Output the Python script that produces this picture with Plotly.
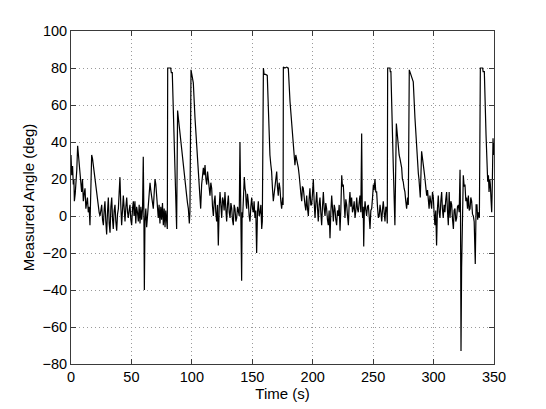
import plotly.graph_objects as go

# Sample times [s]
time_s = [
    0.0, 0.6, 1.3, 1.9, 2.4, 2.8, 3.5, 4.1, 4.8, 5.5, 6.2, 6.8, 7.4, 8.1, 8.8, 9.5,
    10.2, 10.9, 11.6, 12.3, 12.9, 13.6, 14.3, 15.0, 15.7, 16.4, 17.1, 17.8, 18.5,
    19.2, 19.9, 20.6, 21.2, 21.9, 22.6, 23.3, 24.0, 24.7, 25.4, 26.1, 26.8, 27.5,
    28.1, 28.8, 29.5, 30.2, 30.9, 31.6, 32.3, 33.0, 33.7, 34.4, 35.0, 35.7, 36.4,
    37.1, 37.8, 38.5, 39.2, 39.8, 40.5, 41.2, 41.9, 42.6, 43.3, 44.0, 44.7, 45.4,
    46.1, 46.8, 47.4, 48.1, 48.8, 49.5, 50.2, 50.9, 51.6, 52.2, 52.9, 53.6, 54.3,
    55.0, 55.7, 56.4,
    57.1, 57.8, 58.5, 59.2, 59.8, 60.3, 60.7, 61.2, 61.9, 62.6, 63.3, 64.0, 64.7,
    65.4, 66.0, 66.7, 67.4, 68.1, 68.8, 69.5, 70.2, 70.9, 71.5, 72.2, 72.9, 73.6,
    74.3, 75.0, 75.7, 76.4, 77.1, 77.8, 78.4, 79.1, 79.7, 80.0, 81.0, 82.5, 83.0,
    83.8, 87.4, 88.2, 89.0, 90.2, 90.8, 91.5, 92.2, 92.9, 93.6, 94.3, 95.0, 95.7,
    96.4, 97.1, 97.9, 98.4, 99.3, 100.0, 101.2, 102.6, 104.0, 105.3, 106.0, 106.7,
    107.3, 108.1, 108.8, 109.5, 110.2, 110.9,
    111.6, 112.3, 113.0, 113.6, 114.3, 115.0, 115.7, 116.4, 117.1, 117.8, 118.5,
    119.2, 119.8, 120.5, 121.2, 121.9, 122.6, 123.3, 124.0, 124.7, 125.4, 126.1,
    126.7, 127.4, 128.1, 128.8, 129.5, 130.2, 130.9, 131.6, 132.3, 133.0, 133.6,
    134.3, 135.0, 135.7, 136.4, 137.1, 137.8, 138.5, 139.2, 139.8, 140.4, 140.8,
    141.2, 141.6, 142.0, 142.7, 143.4, 144.0, 144.5, 145.0, 145.4, 146.0, 146.7,
    147.4, 148.1, 148.8, 149.5, 150.2, 150.9, 151.5, 152.2, 152.9, 153.6, 154.3,
    155.0, 155.7, 156.4, 157.1, 157.8, 158.3, 158.6, 159.2, 159.8, 161.0, 162.4,
    163.3, 164.0, 164.6, 165.3, 166.0, 166.7, 167.4, 168.1, 168.8, 169.5, 170.2,
    170.8, 171.5, 172.2, 172.9, 173.6, 174.3, 175.1, 175.5, 175.7, 177.0, 178.5,
    179.8, 181.2, 182.6, 183.3, 184.0, 184.6, 185.3, 186.0, 186.7, 187.4, 188.1,
    188.8, 189.5, 190.2, 190.9, 191.5, 192.2, 192.9, 193.6, 194.3, 195.0, 195.7,
    196.4, 197.0, 197.7, 198.4, 199.1, 199.8, 200.5, 201.2, 201.9, 202.6, 203.3,
    204.0, 204.6, 205.3, 206.0, 206.7, 207.4, 208.1, 208.8,
    209.5, 210.2, 210.8, 211.5, 212.2, 212.9, 213.6, 214.3, 215.0, 215.7, 216.4,
    217.1, 217.8, 218.4, 219.1, 219.8, 220.5, 221.2, 221.9, 222.6, 223.3, 224.0,
    224.6, 225.3, 226.0, 226.7, 227.4, 228.1, 228.8, 229.5, 230.2, 230.8, 231.5,
    232.2, 232.9, 233.6, 234.3, 235.0, 235.7, 236.4, 237.0, 237.7, 238.4, 239.1,
    239.8, 240.5, 241.0, 241.3, 241.8, 242.2, 242.7, 243.3, 244.0, 244.6, 245.3,
    246.0, 246.7, 247.4, 248.1, 248.8, 249.5, 250.2, 250.8, 251.5, 252.2, 252.9,
    253.6, 254.3, 255.0, 255.7, 256.4, 257.1, 257.8, 258.4,
    259.1, 259.8, 260.5, 261.2, 261.7, 262.0, 263.0, 263.9, 264.2, 264.7, 266.7,
    268.0, 269.2, 270.0, 270.8, 271.5, 272.2, 272.9, 273.6, 274.2, 274.9, 275.6,
    276.3, 277.0, 277.7, 278.5, 279.1, 279.9, 280.8, 281.8, 283.2, 284.6, 286.0,
    286.8, 287.4, 287.9, 288.5, 289.0, 290.1, 290.8, 291.5, 292.2, 292.9, 293.6,
    294.3, 295.0, 295.6, 296.3, 297.0, 297.7, 298.4, 299.1, 299.8, 300.4, 301.1,
    301.8, 302.5, 303.2, 303.9, 304.6, 305.3, 306.0, 306.7, 307.3, 308.0, 308.7,
    309.4, 310.1, 310.8, 311.5, 312.2,
    312.9, 313.6, 314.3, 315.0, 315.7, 316.4, 317.0, 317.7, 318.4, 319.1, 319.8,
    320.5, 321.2, 321.9, 322.3, 322.7, 323.2, 323.8, 324.6, 325.3, 326.0, 326.7,
    327.4, 328.1, 328.8, 329.5, 330.2, 330.8, 331.5, 332.2, 332.9, 333.6, 334.5,
    335.2, 335.9, 336.5, 337.0, 337.9, 338.7, 339.5, 340.6, 341.0, 342.0, 343.4,
    344.8, 345.4, 345.9, 346.5, 347.0, 347.6, 348.1, 348.6, 349.2, 349.7, 350.0,
]

# Measured angle [deg] at each sample time
angle_deg = [
    33, 22, 27, 17, 20, 8, 12, 17, 25, 38, 33, 30, 26, 18, 13, 20,
    8, 12, 15, 4, 6, 10, 2, 5, -5, 18, 33, 31, 27,
    22, 20, 14, 13, 8, 4, 2, 0, 3, 6, -2, -5, 4,
    8, -3, -10, 2, 10, -4, -9, 5, 10, -2, -7, 3, 6,
    -3, -8, 1, 4, 12, 21, 6, -5, 3, 11, 4, -3, 5,
    10, 2, -1, 3, 6, -2, -5, 4, 8, 0, 8, -4, 5,
    2, -3, 6,
    -4, 5, -2, 4, 32, 2, -40, -3, 4, -6, 3, 6, 12,
    18, 14, 11, 7, 4, 12, 20, 17, 11, 4, -1, 6, -4,
    5, -2, 7, -5, 4, -6, 3, -2, -7, 80, 80, 80, 77.5,
    77.5, -7, 57, 52, 44, 40, 35, 31, 27, 24, 20, 14, 11,
    7, 4, -4, 2, 79, 77, 72, 53, 38, 26, 18, 13,
    4, 17, 22, 26, 22, 27.5,
    20, 17, 24, 20, 14, 11, 18, 15, 5, 0, 8,
    11, 2, -3, 6, -16, 4, 13, 6, -1, 10, 8,
    3, 13, 4, -3, 6, 11, 2, -1, 7, 4, -2,
    -5, 6, 4, -3, -1, 5, 2, 0, 40, -8, 3,
    -35, 2, -1, 10, 21, 15, 13, 6, 4, 12, 8,
    0, -3, 5, 10, 4, 2, 8, -1, 3, -20, 2,
    8, 0, 2, 6, -7, -3, 80, 80, 76.5, 76.5, 76,
    53, 40, 33, 28, 24, 15, 8, 12, 17, 21, 24,
    16, 11, 18, 15, 8, 4, 10, 6, 80.5, 80, 80.5,
    80, 62, 49, 44, 38, 30, 27.5, 33, 31, 28, 26,
    22, 18.5, 12, 8, 16, 15, 9, 6, 3, 11, 4,
    0, 9, 15, 6, 6, 12, 20, 8, -1, 7, 13,
    4, -3, 6, 10, 2, -5, 5, 13,
    4, 0, 7, 4, -2, -5, 3, -12, 2, 11, 4,
    -3, 6, 4, -2, -5, 3, 0, 6, -8, 4, 22,
    16, 17, 8, -1, 9, 6, 0, -5, 7, 13, 5,
    10, 2, 4, 8, -1, 3, 10, 4, 2, 7, 11,
    2, 44.6, 3, -1, 5, -16.5, 2, 8, 3, 0, 5,
    6, 0, -7, 3, 4, 10, 17, 14, 20, 13, 13,
    5, -1, 0, 6, 2, -3, 4, 8,
    2, -3, 5, 4, -4, 80, 80, 80, 78, 78, 26,
    -5, 50, 42, 36.5, 33, 31, 28, 26, 20, 18.5, 15,
    13, 8, 4, 10, 6, 79, 77, 75, 72.5, 53, 35,
    26, 23, 20, 14, 10, 35, 30, 27.5, 24, 20, 15,
    11, 14, 8, 4, 11, 6, 4, 13, 10, 2, -5,
    3, -16, 4, 11, 2, -1, 8, 13, 4, -1, 6,
    2, 9, 13, 3, -5,
    13, -1, 8, 6, -2, -7, 3, 4, -3, -1, 5,
    6, 2, 25, 0, -73, -28, -1, 22, 16, 17, 8,
    10, 4, 11, 3, 4, 10, 8, 1, 0, -3, -26,
    6, 6, -2, 2, -1, 80, 80, 80, 78, 78, 44,
    18.5, 22, 13, 20, 17, 8, 2, 17, 42, 33, 40,
]

x_ticks = [0, 50, 100, 150, 200, 250, 300, 350]
y_ticks = [-80, -60, -40, -20, 0, 20, 40, 60, 80, 100]

FONT = "Liberation Sans, Arial, Helvetica, sans-serif"

fig = go.Figure()
fig.add_trace(
    go.Scatter(
        x=time_s,
        y=angle_deg,
        mode="lines",
        line=dict(color="black", width=1.2),
        showlegend=False,
    )
)

axis_style = dict(
    automargin=True,
    showline=True,
    linecolor="#3a3a3a",
    linewidth=1,
    mirror="ticks",
    ticks="inside",
    ticklen=5,
    tickcolor="#3a3a3a",
    showgrid=True,
    gridcolor="#9a9a9a",
    griddash="1px,3px",
    gridwidth=1,
    zeroline=False,
    tickfont=dict(family=FONT, size=14.5, color="black"),
)

# the page body adds an 8px margin, so the figure is shifted by that much
fig.update_layout(
    template="none",
    width=538,
    height=401,
    margin=dict(l=63, r=52, t=23, b=45),
    paper_bgcolor="white",
    plot_bgcolor="white",
    font=dict(family=FONT, color="black"),
    xaxis=dict(
        range=[0, 350],
        tickvals=x_ticks,
        title=dict(text="Time (s)", font=dict(size=15), standoff=2),
        **axis_style
    ),
    yaxis=dict(
        range=[-80, 100],
        tickvals=y_ticks,
        title=dict(text="Measured Angle (deg)", font=dict(size=15), standoff=4),
        **axis_style
    ),
)

fig.write_html("out.html")
